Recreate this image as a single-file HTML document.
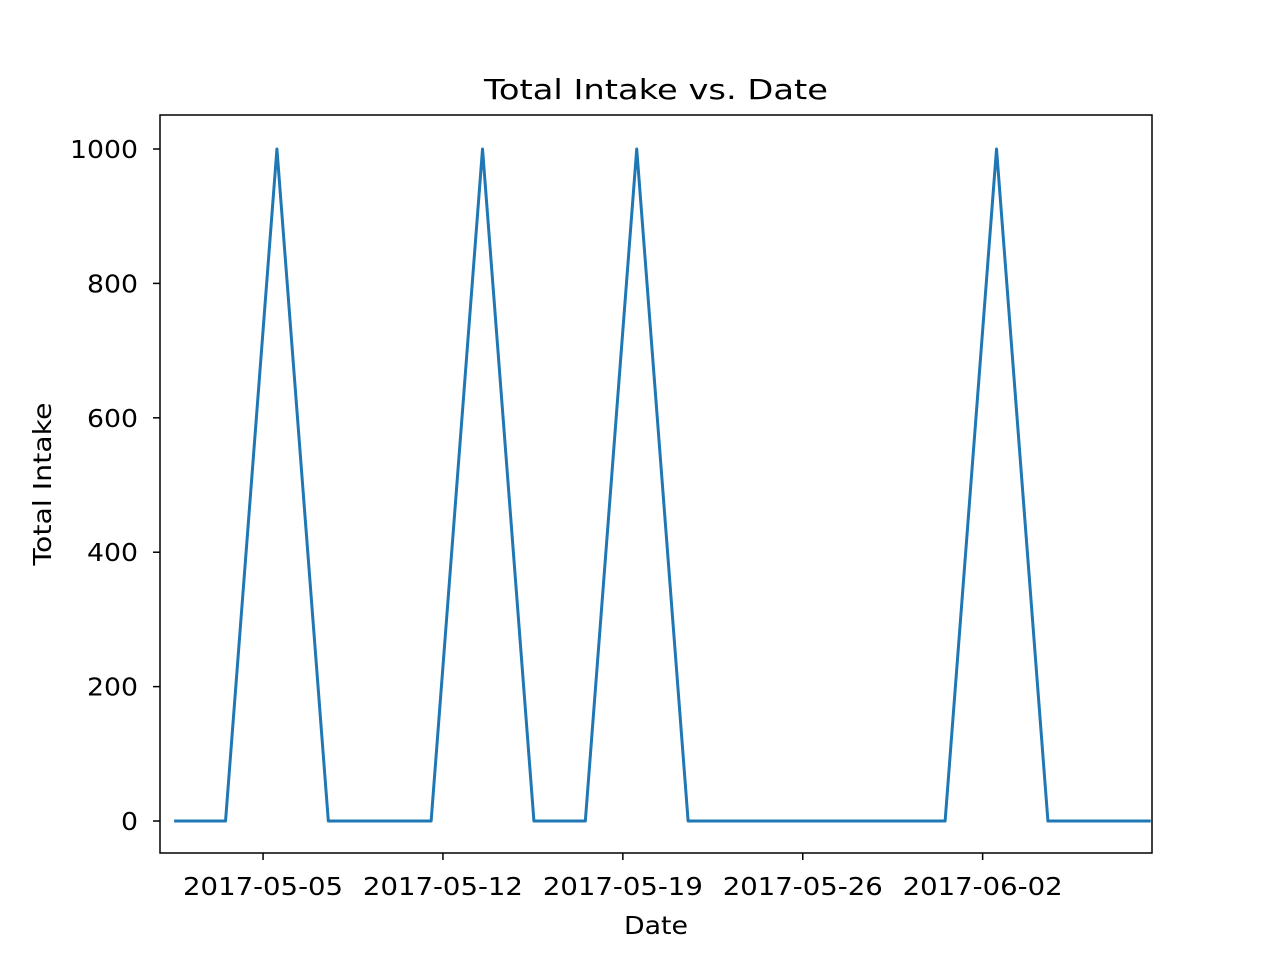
<!DOCTYPE html>
<html><head><meta charset="utf-8"><style>body{margin:0;background:#fff}svg{display:block;font-family:"DejaVu Sans","Liberation Sans",sans-serif}</style></head>
<body>
<svg id="chart" width="1280" height="960">
<rect width="1280" height="960" fill="#fff"/>
<text x="656" y="99" font-size="28" text-anchor="middle" textLength="344" lengthAdjust="spacingAndGlyphs">Total Intake vs. Date</text>
<text x="656" y="934" font-size="25" text-anchor="middle" textLength="64" lengthAdjust="spacingAndGlyphs">Date</text>
<text transform="translate(51,484) rotate(-90)" font-size="25" text-anchor="middle" textLength="163" lengthAdjust="spacingAndGlyphs">Total Intake</text>
<g id="ticks"></g>
<polyline id="series" fill="none" stroke="#1f77b4" stroke-width="3" stroke-linejoin="round"/>
<rect x="160" y="115" width="992" height="738" fill="none" stroke="#000" stroke-width="1.5"/>
</svg>
<script>
// day offsets relative to 2017-05-05
const dayOffsets = [-3.46,-1.46,0.54,2.54,4.54,6.54,8.54,10.54,12.54,14.54,16.54,18.54,20.54,22.54,24.54,26.54,28.54,30.54,32.54,34.54];
const intakeValues = [0,0,1000,0,0,0,1000,0,0,1000,0,0,0,0,0,0,1000,0,0,0];
const xTickDays = [0,7,14,21,28];
const xTickLabels = ["2017-05-05","2017-05-12","2017-05-19","2017-05-26","2017-06-02"];
const yTicks = [0,200,400,600,800,1000];
const X0=160,X1=1152,Y0=853,Y1=115,dMin=-4.01,dMax=34.59,vMin=-47.6,vMax=1050.6;
const xs=d=>X0+(d-dMin)/(dMax-dMin)*(X1-X0);
const ys=v=>Y0-(v-vMin)/(vMax-vMin)*(Y0-Y1);
const NS="http://www.w3.org/2000/svg";
document.getElementById('series').setAttribute('points',dayOffsets.map((d,i)=>xs(d)+','+ys(intakeValues[i])).join(' '));
const g=document.getElementById('ticks');
xTickDays.forEach((d,i)=>{
 const l=document.createElementNS(NS,'line');
 l.setAttribute('x1',xs(d));l.setAttribute('x2',xs(d));l.setAttribute('y1',Y0);l.setAttribute('y2',Y0+7);l.setAttribute('stroke','#000');l.setAttribute('stroke-width','1.5');
 
 
 g.appendChild(l);
 const t=document.createElementNS(NS,'text');
 t.setAttribute('x',xs(d));t.setAttribute('y',Y0+42);t.setAttribute('font-size','25');t.setAttribute('text-anchor','middle');
 t.setAttribute('textLength','160');t.setAttribute('lengthAdjust','spacingAndGlyphs');
 t.textContent=xTickLabels[i];
 
 
 g.appendChild(t);
});
yTicks.forEach(v=>{
 const l=document.createElementNS(NS,'line');
 l.setAttribute('x1',X0-7);l.setAttribute('x2',X0);l.setAttribute('y1',ys(v));l.setAttribute('y2',ys(v));l.setAttribute('stroke','#000');l.setAttribute('stroke-width','1.5');
 
 
 g.appendChild(l);
 const t=document.createElementNS(NS,'text');
 t.setAttribute('x',X0-22);t.setAttribute('y',ys(v)+9);t.setAttribute('font-size','25');t.setAttribute('text-anchor','end');
 t.setAttribute('textLength',String(String(v).length*17));t.setAttribute('lengthAdjust','spacingAndGlyphs');
 t.textContent=v;
 
 
 g.appendChild(t);
});
</script>
</body></html>
